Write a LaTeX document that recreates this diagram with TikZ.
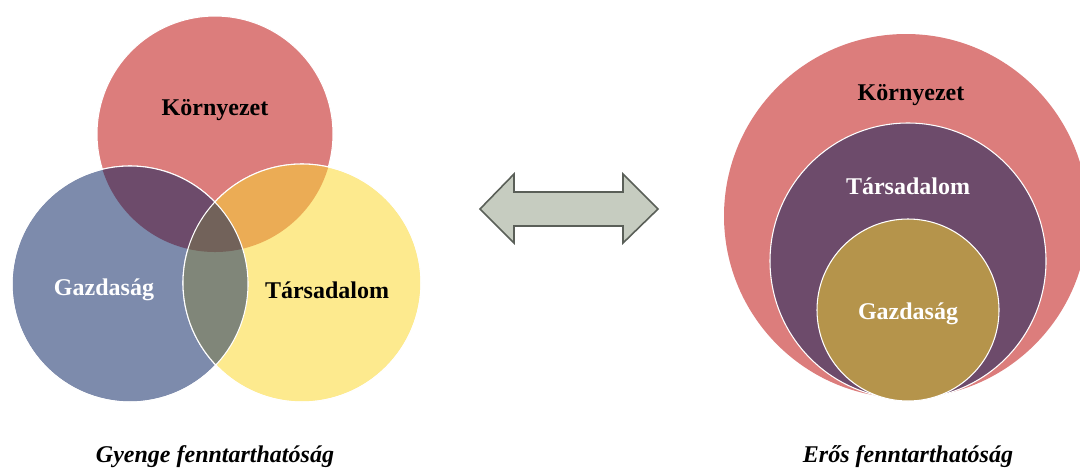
\documentclass[tikz,border=0pt]{standalone}
\usepackage{fontspec}
\setmainfont{Liberation Serif}
\definecolor{cRed}{HTML}{DC7D7C}
\definecolor{cBlue}{HTML}{7D8BAC}
\definecolor{cYellow}{HTML}{FDEA8E}
\definecolor{cPurple}{HTML}{6D4B6B}
\definecolor{cOrange}{HTML}{EBAC55}
\definecolor{cGreen}{HTML}{808679}
\definecolor{cBrown}{HTML}{72625A}
\definecolor{cGold}{HTML}{B5944B}
\definecolor{cArrow}{HTML}{C6CCC0}
\definecolor{cArrowLine}{HTML}{5A5F58}
\begin{document}
\begin{tikzpicture}[x=0.75pt,y=-0.75pt,
  lbl/.style={font=\fontsize{18}{20}\selectfont\bfseries, inner sep=0pt},
  captiontext/.style={font=\fontsize{18}{20}\selectfont\bfseries\itshape, inner sep=0pt},
  ring/.style={circle, inner sep=0pt, outer sep=0pt, draw=white, line width=0.8pt}]
\useasboundingbox (0,0) rectangle (1080,469);
% ---- weak sustainability (Venn) ----
\node[ring, fill=cRed, minimum size=177pt] (kL) at (215,134) {};
\node[ring, fill=cBlue, minimum size=177pt] (gL) at (130,284) {};
\node[ring, fill=cYellow, minimum size=178.5pt] (tL) at (302,283) {};
\begin{scope}
  \clip (215,134) circle[radius=88.5pt];
  \fill[cPurple] (130,284) circle[radius=88.5pt];
  \fill[cOrange] (302,283) circle[radius=89.25pt];
\end{scope}
\begin{scope}
  \clip (130,284) circle[radius=88.5pt];
  \fill[cGreen] (302,283) circle[radius=89.25pt];
  \clip (215,134) circle[radius=88.5pt];
  \fill[cBrown] (302,283) circle[radius=89.25pt];
\end{scope}
\draw[white, line width=0.8pt] (130,284) circle[radius=88.5pt];
\draw[white, line width=0.8pt] (302,283) circle[radius=89.25pt];
\node[lbl, text=black] (kLt) at (215,110) {Környezet};
\node[lbl, text=white] (gLt) at (104,290) {Gazdaság};
\node[lbl, text=black] (tLt) at (327,290) {Társadalom};
\node[captiontext] (capL) at (215,457) {Gyenge fenntarthatóság};
% ---- double arrow ----
\draw[fill=cArrow, draw=cArrowLine, line width=1.2pt, line join=miter]
  (480,209) -- (514,174) -- (514,192) -- (623,192) -- (623,174) -- (658,209)
  -- (623,243) -- (623,226) -- (514,226) -- (514,243) -- cycle;
% ---- strong sustainability (nested) ----
\node[circle, inner sep=0pt, fill=cRed, minimum size=273pt] (kR) at (906,216) {};
\node[ring, fill=cPurple, minimum size=207pt] (tR) at (908,261) {};
\node[ring, fill=cGold, minimum size=136.5pt] (gR) at (908,310) {};
\node[lbl, text=black] (kRt) at (911,95) {Környezet};
\node[lbl, text=white] (tRt) at (908,186) {Társadalom};
\node[lbl, text=white] (gRt) at (908,314) {Gazdaság};
\node[captiontext] (capR) at (908,457) {Erős fenntarthatóság};
\end{tikzpicture}
\end{document}
